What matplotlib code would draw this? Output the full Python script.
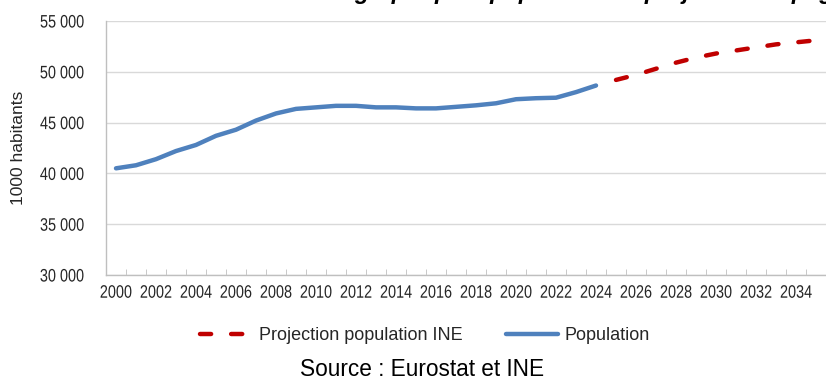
import matplotlib.pyplot as plt
from matplotlib.ticker import FuncFormatter, MultipleLocator
from matplotlib.patheffects import AbstractPathEffect
from matplotlib.transforms import Affine2D

# Data (thousands of inhabitants)
years_pop = list(range(2000, 2025))
population = [40500, 40800, 41400, 42200, 42800, 43700, 44300, 45200, 45900, 46350,
              46500, 46650, 46650, 46500, 46500, 46400, 46400, 46550, 46700, 46900,
              47300, 47400, 47450, 48000, 48650]
years_proj = list(range(2025, 2036))
projection = [49200, 49700, 50300, 50900, 51400, 51800, 52100, 52400, 52700, 52900, 53100]

regular = ['Liberation Sans', 'DejaVu Sans']


# the tick labels of the original are in a narrow font, squeeze a regular one
class Squeeze(AbstractPathEffect):
    def __init__(self, sx=0.8, anchor='center'):
        super().__init__()
        self.sx = sx
        self.anchor = anchor

    def draw_path(self, renderer, gc, tpath, affine, rgbFace=None):
        ext = tpath.get_extents()
        if self.anchor == 'right':
            cx = ext.x1
        else:
            cx = (ext.x0 + ext.x1) / 2
        t = Affine2D().translate(-cx, 0).scale(self.sx, 1).translate(cx, 0) + affine
        renderer.draw_path(gc, tpath, t, rgbFace)


fig = plt.figure(figsize=(8.26, 3.81), dpi=100)
ax = fig.add_axes([106 / 826, 1 - 275 / 381, 1 - 106 / 826, (275 - 21) / 381])

ax.plot(years_proj, projection, color='#C00000', lw=3.2, dashes=(2.5, 4.5),
        dash_capstyle='round', label='Projection population INE')
ax.plot(years_pop, population, color='#4F81BD', lw=3.2, solid_capstyle='round',
        label='Population')

ax.set_ylim(30000, 55000)
ax.set_xlim(1999.5, 2035.15)
ax.yaxis.set_major_locator(MultipleLocator(5000))
ax.yaxis.set_major_formatter(FuncFormatter(lambda v, p: f'{int(v):,}'.replace(',', ' ')))
ax.set_xticks(range(2000, 2036, 2))
ax.set_xticks([y + 0.5 for y in range(1999, 2036)], minor=True)

ax.grid(axis='y', color='#D9D9D9', lw=1)
ax.set_axisbelow(True)
for s in ['top', 'right']:
    ax.spines[s].set_visible(False)
for s in ['left', 'bottom']:
    ax.spines[s].set_color('#BFBFBF')
    ax.spines[s].set_linewidth(1)

ax.tick_params(axis='x', which='major', length=0, pad=7)
ax.tick_params(axis='x', which='minor', length=4, direction='in', color='#BFBFBF')
ax.tick_params(axis='y', length=0, pad=15.5)
for lbl in ax.get_xticklabels():
    lbl.set_family(regular)
    lbl.set_fontsize(13)
    lbl.set_color('#262626')
    lbl.set_path_effects([Squeeze(0.8, 'center')])
for lbl in ax.get_yticklabels():
    lbl.set_family(regular)
    lbl.set_fontsize(13)
    lbl.set_color('#262626')
    lbl.set_path_effects([Squeeze(0.8, 'right')])

fig.text(19 / 826, 1 - 148 / 381, '1000 habitants', rotation=90, fontsize=12.5,
         family=regular, color='#262626', ha='center', va='center')

leg = fig.legend(loc='center', bbox_to_anchor=(425 / 826, 1 - 336 / 381), ncol=2,
                 frameon=False, prop={'family': regular, 'size': 13},
                 handlelength=2.9, columnspacing=2.4, handletextpad=0.35)
for t in leg.get_texts():
    t.set_color('#262626')

fig.text(422 / 826, 1 - 370 / 381, 'Source : Eurostat et INE', ha='center', va='center',
         fontsize=16.3, family=regular, color='#000000')

# title, mostly cut off at the top of the picture
fig.text(530 / 826, 1 + 1.5 / 381, 'Évolution démographique : population et projection espagnole',
         ha='center', va='baseline', fontsize=17, fontweight='bold', fontstyle='italic',
         family=regular)

fig.savefig('out.png', dpi=100)
